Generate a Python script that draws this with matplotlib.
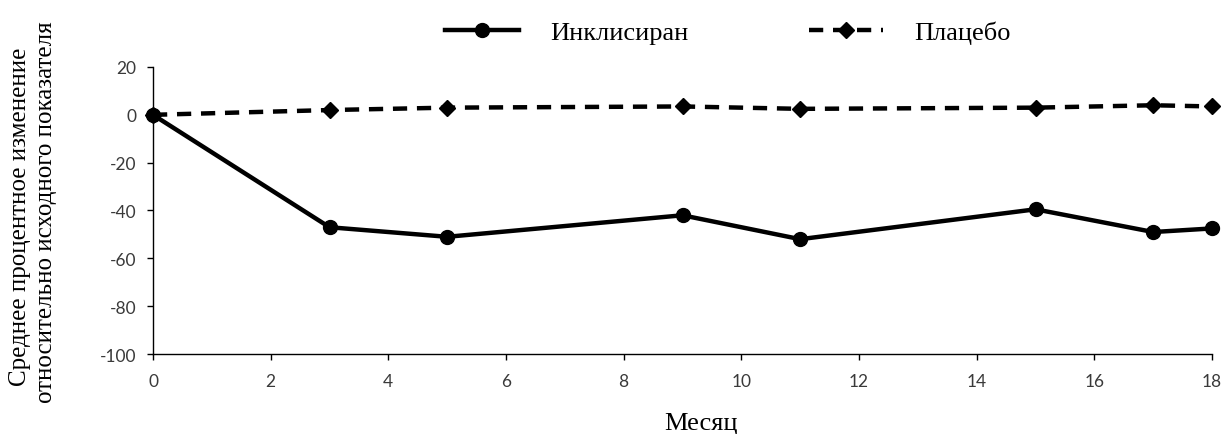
import matplotlib
matplotlib.use("Agg")
import matplotlib.pyplot as plt

plt.rcParams['axes.unicode_minus'] = False

# данные по месяцам
months = [0, 3, 5, 9, 11, 15, 17, 18]
inclisiran = [0, -47, -51, -42, -52, -39.5, -49, -47.5]
placebo = [0, 2, 3, 3.5, 2.5, 3, 4, 3.5]

x_ticks = [0, 2, 4, 6, 8, 10, 12, 14, 16, 18]
y_ticks = [-100, -80, -60, -40, -20, 0, 20]

fig = plt.figure(figsize=(12.26, 4.35), dpi=100)
ax = fig.add_axes([0.1248, 0.1839, 0.8638, 0.6598])

ax.plot(months, inclisiran, color='black', lw=3.2, marker='o', markersize=10,
        label='Инклисиран', clip_on=False, zorder=3)
ax.plot(months, placebo, color='black', lw=3.2, ls=(0, (3.2, 2.2)), marker='D', markersize=8.5,
        label='Плацебо', clip_on=False, zorder=3)

ax.set_xlim(0, 18)
ax.set_ylim(-100, 20)
ax.set_xticks(x_ticks)
ax.set_yticks(y_ticks)
for s in ['top', 'right']:
    ax.spines[s].set_visible(False)
for s in ['left', 'bottom']:
    ax.spines[s].set_linewidth(1.0)
ax.tick_params(direction='out', length=4, width=1, labelsize=12.5, labelcolor='#3a3a3a')
ax.tick_params(axis='y', pad=8)
ax.tick_params(axis='x', pad=10)
for lab in ax.get_xticklabels() + ax.get_yticklabels():
    lab.set_family(['Lato', 'DejaVu Sans'])

fig.text(0.572, 0.012, 'Месяц', ha='center', va='baseline',
         family='Liberation Serif', fontsize=19)

# подпись оси Y в две строки
fig.text(0.0165, 0.502, 'Среднее процентное изменение', rotation=90, va='center', ha='center',
         family='Liberation Serif', fontsize=18)
fig.text(0.0375, 0.512, 'относительно исходного показателя', rotation=90, va='center', ha='center',
         family='Liberation Serif', fontsize=18)

leg = fig.legend(loc='center left', bbox_to_anchor=(0.363, 0.924), ncol=2, frameon=False,
                 prop={'family': 'Liberation Serif', 'size': 19}, handlelength=2.8,
                 columnspacing=4.6, handletextpad=1.17, borderpad=0, borderaxespad=0)

fig.savefig('out.png', dpi=100)
